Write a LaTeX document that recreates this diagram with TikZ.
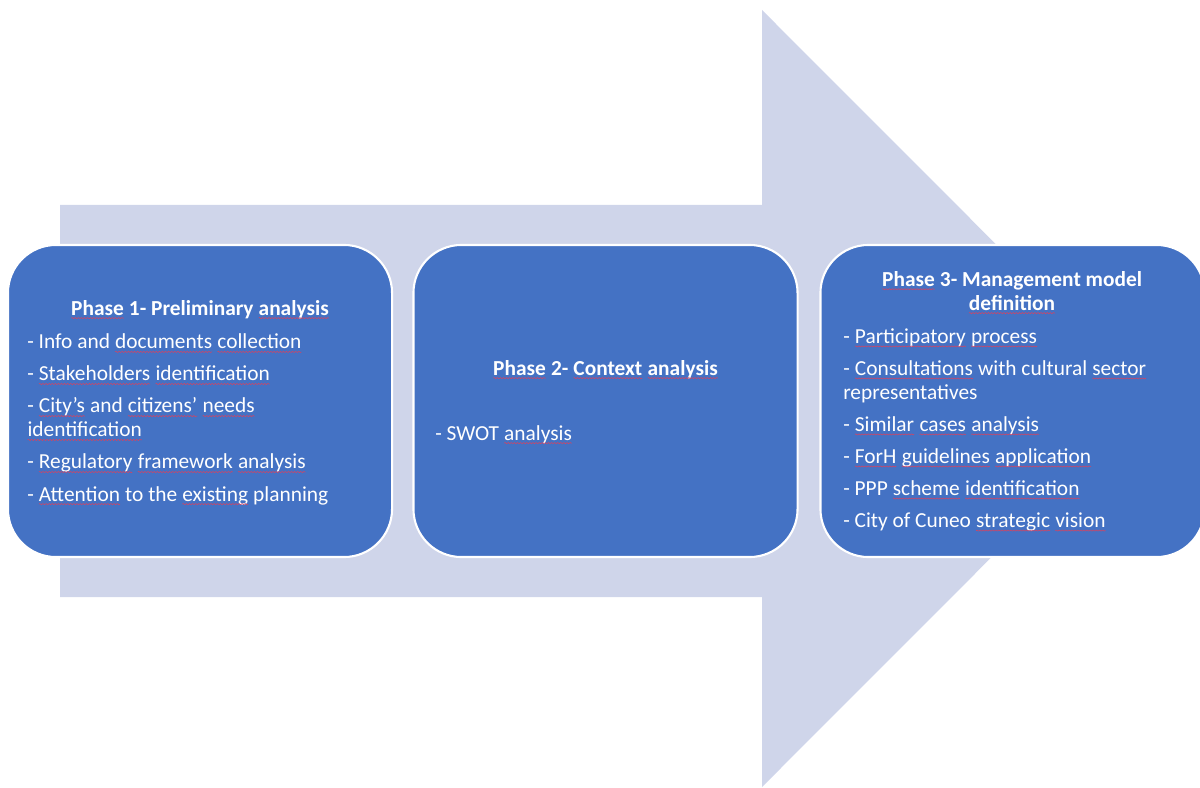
\documentclass[tikz,border=0pt]{standalone}
\usepackage{fontspec}
\setmainfont{Carlito}
\usetikzlibrary{decorations.pathmorphing}
\definecolor{arrowfill}{HTML}{CFD5EA}
\definecolor{boxfill}{HTML}{4472C4}
\definecolor{spellred}{HTML}{E0405A}
\tikzset{
    phasebox/.style={draw=white, line width=1.5pt, fill=boxfill, rounded corners=1.2cm,
        minimum width=9.6cm, minimum height=7.8cm},
    phasetitle/.style={text=white, font=\fontsize{15.2}{17}\selectfont\bfseries, align=center, inner sep=0pt, anchor=base},
    phaselist/.style={text=white, font=\fontsize{15.2}{17}\selectfont, align=left, inner sep=0pt, anchor=base west},
}
\newcommand{\spell}[1]{\tikz[baseline=(w.base)]{\node[inner sep=0pt, outer sep=0pt, draw=none, fill=none, rectangle, anchor=base] (w) {#1};
    \draw[spellred, line width=0.35pt, rounded corners=0pt, decorate, decoration={snake, amplitude=0.4pt, segment length=2.2pt}]
        ([yshift=-2.2pt]w.base west) -- ([yshift=-2.2pt]w.base east);}}
\newcommand{\gap}{\\[5.8pt]}

\begin{document}
\begin{tikzpicture}[x=0.025cm, y=-0.025cm]
    \clip (0, 0) rectangle (1200, 787);

    % big arrow behind the phases
    \fill[arrowfill] (60, 205) -- (762, 205) -- (762, 10) -- (1150, 398.5)
        -- (762, 787) -- (762, 597) -- (60, 597) -- cycle;

    \node (p1) [phasebox] at (200, 401) {};
    \node (p2) [phasebox] at (605.5, 401) {};
    \node (p3) [phasebox] at (1012.5, 401) {};

    % phase 1 (list placed by its last baseline)
    \node (t1) [phasetitle] at (200, 315) {\spell{Phase} 1- Preliminary \spell{analysis}};
    \node (l1) [phaselist] at (27, 501) {- Info and \spell{documents} \spell{collection}\gap
        - \spell{Stakeholders} \spell{identification}\gap
        - \spell{City’s} and \spell{citizens’} \spell{needs}\\
        \spell{identification}\gap
        - \spell{Regulatory} \spell{framework} \spell{analysis}\gap
        - \spell{Attention} to the \spell{existing} planning};

    % phase 2
    \node (t2) [phasetitle] at (605.5, 375) {\spell{Phase} 2- \spell{Context} \spell{analysis}};
    \node (l2) [phaselist] at (435, 440) {- SWOT \spell{analysis}};

    % phase 3
    \node (t3) [phasetitle] at (1012, 310) {\spell{Phase} 3- Management model\\ \spell{definition}};
    \node (l3) [phaselist] at (843, 527.5) {- \spell{Participatory} \spell{process}\gap
        - \spell{Consultations} with cultural \spell{sector}\\
        representatives\gap
        - \spell{Similar} \spell{cases} \spell{analysis}\gap
        - \spell{ForH} \spell{guidelines} \spell{application}\gap
        - PPP \spell{scheme} \spell{identification}\gap
        - City of Cuneo \spell{strategic} \spell{vision}};
\end{tikzpicture}
\end{document}
